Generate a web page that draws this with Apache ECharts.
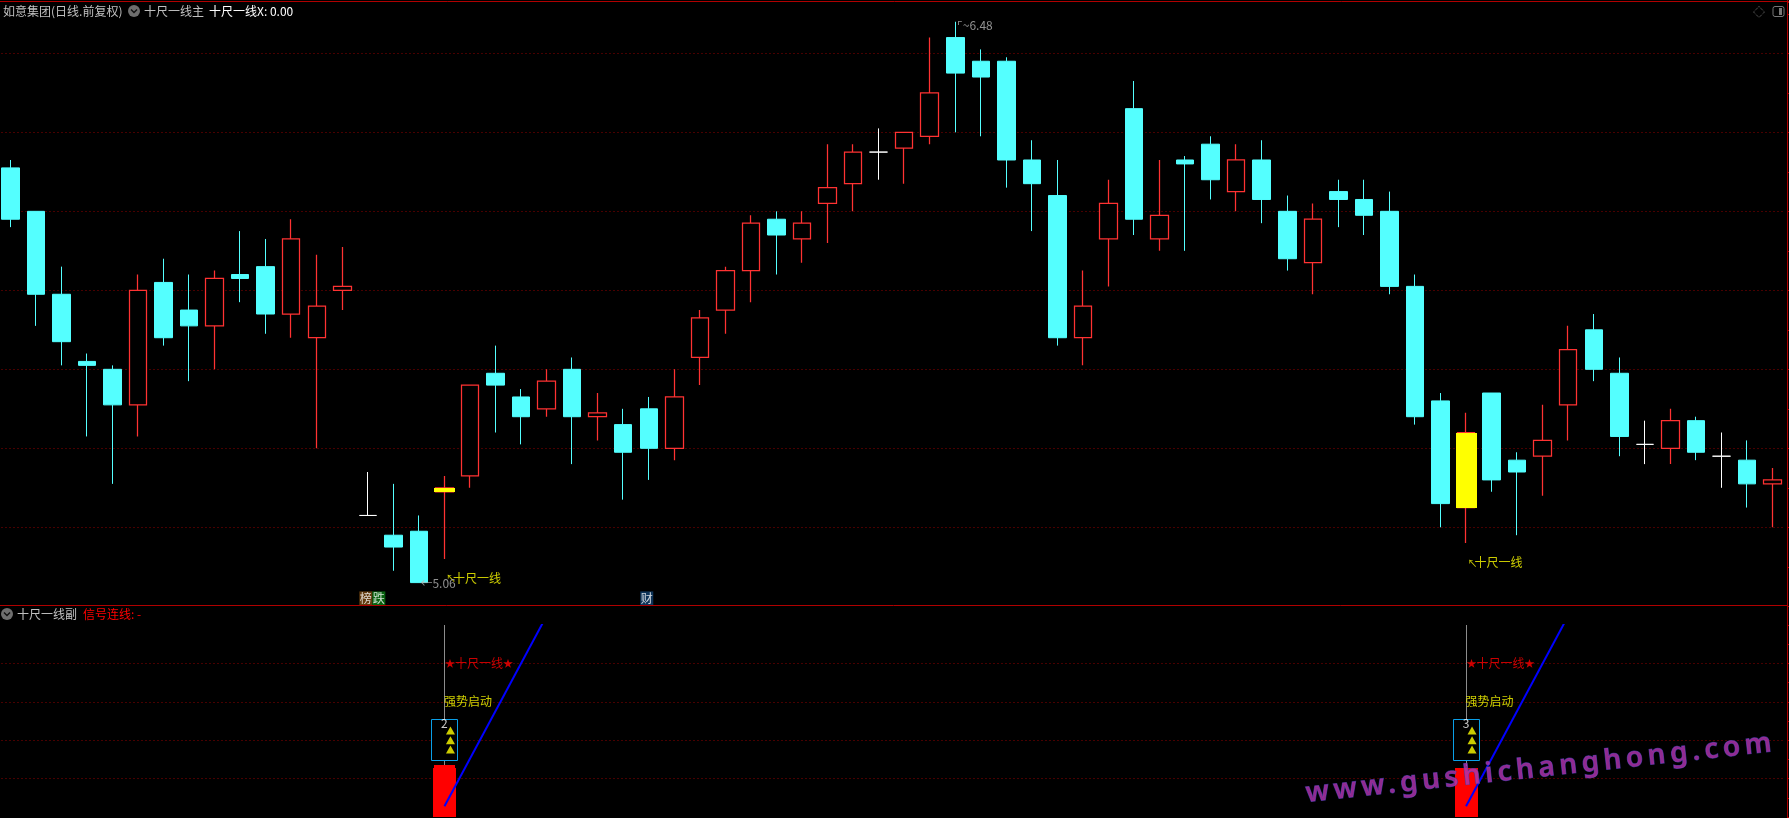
<!DOCTYPE html>
<html>
<head>
<meta charset="utf-8">
<style>html,body{margin:0;padding:0;background:#000}#c{width:1789px;height:818px}</style>
<script src="https://cdn.jsdelivr.net/npm/echarts@6/dist/echarts.min.js"></script>
</head>
<body>
<div id="c"></div>
<script>
// ---- candle data (price) ----
const opens = [6.11,6.00,5.79,5.62,5.60,5.51,5.82,5.75,5.71,5.84,5.86,5.74,5.68,5.80,5.23,5.18,5.19,5.29,5.33,5.59,5.53,5.50,5.60,5.48,5.46,5.50,5.40,5.63,5.75,5.85,5.98,5.93,6.02,6.07,6.15,6.16,6.19,6.44,6.38,6.38,6.13,6.04,5.68,5.93,6.26,5.93,6.13,6.17,6.05,6.13,6.00,5.87,6.05,6.03,6.00,5.81,5.52,5.25,5.54,5.37,5.38,5.51,5.70,5.59,5.41,5.40,5.47,5.38,5.37,5.31];
const closes = [5.98,5.79,5.67,5.61,5.51,5.80,5.68,5.71,5.83,5.83,5.74,5.93,5.76,5.81,5.23,5.15,5.06,5.30,5.56,5.56,5.48,5.57,5.48,5.49,5.39,5.40,5.53,5.73,5.85,5.97,5.94,5.97,6.06,6.15,6.15,6.20,6.30,6.35,6.34,6.13,6.07,5.68,5.76,6.02,5.98,5.99,6.12,6.08,6.13,6.03,5.88,5.98,6.03,5.99,5.81,5.48,5.26,5.44,5.32,5.34,5.42,5.65,5.60,5.43,5.41,5.47,5.39,5.38,5.31,5.32];
const lows = [5.96,5.71,5.61,5.43,5.31,5.43,5.66,5.57,5.60,5.77,5.69,5.68,5.40,5.75,5.23,5.09,5.06,5.12,5.30,5.44,5.41,5.48,5.36,5.42,5.27,5.32,5.37,5.56,5.69,5.77,5.84,5.87,5.92,6.00,6.08,6.07,6.17,6.20,6.19,6.06,5.95,5.66,5.61,5.81,5.94,5.90,5.90,6.03,6.00,5.97,5.85,5.79,5.96,5.94,5.79,5.46,5.20,5.16,5.29,5.18,5.28,5.42,5.57,5.38,5.36,5.36,5.37,5.30,5.25,5.20];
const highs = [6.13,6.00,5.86,5.64,5.61,5.84,5.88,5.84,5.85,5.95,5.93,5.98,5.89,5.91,5.34,5.31,5.23,5.33,5.56,5.66,5.55,5.60,5.63,5.54,5.50,5.53,5.60,5.75,5.86,5.99,6.00,6.00,6.17,6.17,6.21,6.20,6.44,6.48,6.41,6.39,6.18,6.13,5.85,6.08,6.33,6.13,6.14,6.19,6.17,6.18,6.04,6.02,6.08,6.08,6.05,5.84,5.54,5.49,5.54,5.39,5.51,5.71,5.74,5.63,5.47,5.50,5.48,5.44,5.42,5.35];
const categories = opens.map((_, i) => String(i));

// ---- main pane markers ----
const signalIndices = [17, 57];
const signalLabelPrices = [5.07, 5.11];
const lowIndex = 16, lowPrice = 5.06;
const highIndex = 37, highPrice = 6.48;
const badgeTexts = ['榜', '跌', '财'];
const badgeIndices = [14, 14, 25];
const badgePrice = 5.02;
const mainGridStep = 0.2, mainMin = 5.0, mainMax = 6.53;

// ---- sub pane values ----
const subMin = 0, subMax = 5, subStep = 1;
const stemLow = 1.33, stemHigh = 5;
const boxLow = 1.47, boxHigh = 2.55;
const redBarTop = [1.27, 1.27];
const redCapTop = [1.35, null];
const triangleValues = [2.25, 2.0, 1.76];
const countLabels = ['2', '3'];
const countValue = 2.43;
const starValue = 4.0, strongValue = 3.0;
const blueStartIdx = [17, 57], blueEndIdx = [21, 61];
const blueStartValue = 0.28, blueEndValue = 5.24;

// ---- helpers ----
const CJK = '"Noto Sans CJK SC","Noto Sans",sans-serif';
const BG = '#000000', CYAN = '#54ffff', RED = '#ff3232', GRID = '#900000', FRAME = '#b00000';

function rectSeries(name, gridIndex, data, width, fill, stroke, z) {
  return {
    type: 'custom', name, xAxisIndex: gridIndex, yAxisIndex: gridIndex, z, silent: true,
    encode: { x: 0, y: [1, 2] }, data,
    renderItem(params, api) {
      const c = api.coord([api.value(0), api.value(1)]);
      const t = api.coord([api.value(0), api.value(2)]);
      const x = Math.round(c[0] - width / 2);
      const y = Math.round(Math.min(c[1], t[1]));
      const h = Math.max(1, Math.round(Math.abs(c[1] - t[1])));
      const off = stroke ? 0.5 : 0;
      return {
        type: 'rect',
        shape: { x: x + off, y: y + off, width, height: h },
        style: stroke ? { fill, stroke, lineWidth: 1 } : { fill }
      };
    }
  };
}
function labelSeries(name, gridIndex, data, label, z) {
  return {
    type: 'scatter', name, xAxisIndex: gridIndex, yAxisIndex: gridIndex, z: z || 20, silent: true,
    symbolSize: 1, itemStyle: { color: 'transparent' }, data, label: Object.assign({ show: true, fontFamily: CJK, fontSize: 12 }, label)
  };
}
function txt(text, x, y, fill) {
  return { type: 'text', z: 50, style: { text, x, y, fill, font: '12px ' + CJK, textVerticalAlign: 'middle' } };
}
function chevronIcon(cx, cy) {
  return [
    { type: 'circle', z: 50, shape: { cx, cy, r: 6 }, style: { fill: '#6e6e6e' } },
    { type: 'polyline', z: 51, shape: { points: [[cx - 3, cy - 1.5], [cx, cy + 1.5], [cx + 3, cy - 1.5]] }, style: { stroke: '#111', lineWidth: 1.4, fill: 'none' } }
  ];
}
function frameLine(x1, y1, x2, y2) {
  return { type: 'line', z: 40, shape: { x1, y1, x2, y2 }, style: { stroke: FRAME, lineWidth: 1 } };
}

const candleData = opens.map((o, i) => {
  const item = { value: [o, closes[i], lows[i], highs[i]] };
  if (o === closes[i]) {
    item.itemStyle = { color: '#fff', color0: '#fff', borderColor: '#fff', borderColor0: '#fff', borderColorDoji: '#fff' };
  } else if (closes[i] > o) {
    item.itemStyle = { borderWidth: 1.25 };
  }
  return item;
});

const option = {
  animation: false,
  backgroundColor: BG,
  grid: [
    { left: -2.5, width: 1787.8, top: 2, height: 604.3, outerBoundsMode: 'none' },
    { left: -2.5, width: 1787.8, top: 625, height: 192, outerBoundsMode: 'none' }
  ],
  xAxis: [0, 1].map(g => ({
    type: 'category', gridIndex: g, data: categories, boundaryGap: true,
    axisLine: { show: false }, axisTick: { show: false }, axisLabel: { show: false }, splitLine: { show: false }
  })),
  yAxis: [
    { type: 'value', gridIndex: 0, position: 'right', offset: 2, min: mainMin, max: mainMax, interval: mainGridStep, scale: true },
    { type: 'value', gridIndex: 1, position: 'right', offset: 2, min: subMin, max: subMax, interval: subStep }
  ].map(a => Object.assign(a, {
    axisLine: { show: false },
    axisLabel: { show: false },
    axisTick: { show: true, length: 2, lineStyle: { color: FRAME } },
    minorTick: { show: true, splitNumber: 2, length: 2, lineStyle: { color: FRAME } },
    splitLine: { show: true, showMinLine: false, showMaxLine: false, lineStyle: { color: GRID, width: 1, type: [1, 3] } }
  })),
  series: [
    {
      type: 'candlestick', name: '如意集团', xAxisIndex: 0, yAxisIndex: 0, z: 5, silent: true,
      barWidth: 18, data: candleData,
      itemStyle: { color: BG, color0: CYAN, borderColor: RED, borderColor0: CYAN, borderWidth: 1 }
    },
    rectSeries('十尺一线', 0, signalIndices.map(i => [i, opens[i], closes[i]]), 21, '#ffff00', null, 8),
    labelSeries('十尺一线标注', 0, signalIndices.map((i, k) => [i, signalLabelPrices[k]]), {
      position: 'right', distance: 1, formatter: '{a|↖}{t|十尺一线}',
      rich: { a: { color: '#ffff00', fontSize: 10, fontFamily: CJK, width: 7 }, t: { color: '#ffff00', fontSize: 12, fontFamily: CJK } }
    }),
    labelSeries('最低', 0, [[lowIndex, lowPrice]], {
      position: 'right', distance: 1, offset: [0, 1], color: '#b4b4b4', formatter: '←' + lowPrice.toFixed(2)
    }),
    labelSeries('最高', 0, [[highIndex, highPrice]], {
      position: 'right', distance: 1, offset: [0, 4], color: '#b4b4b4', formatter: '⌜~' + highPrice.toFixed(2)
    }),
    labelSeries('榜', 0, [[badgeIndices[0], badgePrice]], {
      position: 'inside', offset: [-2, 0], color: '#fff', backgroundColor: '#7a4a12', padding: [1, 0.5], formatter: badgeTexts[0]
    }),
    labelSeries('跌', 0, [[badgeIndices[1], badgePrice]], {
      position: 'inside', offset: [11, 0], color: '#fff', backgroundColor: '#0a7a14', padding: [1, 0.5], formatter: badgeTexts[1]
    }),
    labelSeries('财', 0, [[badgeIndices[2], badgePrice]], {
      position: 'inside', offset: [-2, 0], color: '#fff', backgroundColor: '#10406e', padding: [1, 0.5], formatter: badgeTexts[2]
    }),

    rectSeries('竖线', 1, signalIndices.map(i => [i, stemLow, stemHigh]), 1, '#8c8c8c', null, 3),
    rectSeries('红柱顶', 1, signalIndices.map((i, k) => [i, 0, redCapTop[k]]).filter(d => d[2] !== null), 21, '#ff0000', null, 4),
    rectSeries('红柱', 1, signalIndices.map((i, k) => [i, 0, redBarTop[k]]), 23, '#ff0000', null, 4),
    rectSeries('方框', 1, signalIndices.map(i => [i, boxLow, boxHigh]), 26, BG, '#0a9fe8', 6),
    {
      type: 'scatter', name: '三角', xAxisIndex: 1, yAxisIndex: 1, z: 10, silent: true,
      symbol: 'triangle', symbolSize: [9, 8], symbolOffset: [6, 0], itemStyle: { color: '#ffff00' },
      data: signalIndices.flatMap(i => triangleValues.map(v => [i, v]))
    },
    ...blueStartIdx.map((s, k) => ({
      type: 'line', name: '信号连线' + (k + 1), xAxisIndex: 1, yAxisIndex: 1, z: 12, silent: true,
      showSymbol: false, symbol: 'none', connectNulls: true, clip: true,
      lineStyle: { color: '#0000ff', width: 2 },
      data: [[s, blueStartValue], [blueEndIdx[k], blueEndValue]]
    })),
    labelSeries('计数', 1, signalIndices.map((i, k) => ({ value: [i, countValue], name: countLabels[k] })), {
      position: 'inside', color: '#fff', formatter: p => p.name
    }),
    labelSeries('十尺一线副', 1, signalIndices.map(i => [i, starValue]), {
      position: 'right', distance: 0, formatter: '{s|★}{t|十尺一线}{s|★}',
      rich: { s: { color: '#ff0000', fontSize: 10, fontFamily: CJK }, t: { color: '#ff0000', fontSize: 12, fontFamily: CJK } }
    }),
    labelSeries('强势启动', 1, signalIndices.map(i => [i, strongValue]), {
      position: 'right', distance: -1, color: '#ffff00', formatter: '强势启动'
    })
  ],
  graphic: { elements: [
    frameLine(0, 1.5, 1789, 1.5),
    frameLine(0, 605.5, 1787, 605.5),
    frameLine(1787.5, 0, 1787.5, 818),
    txt('如意集团(日线.前复权)', 3, 11, '#c0c0c0'),
    ...chevronIcon(134, 11),
    txt('十尺一线主', 144, 11, '#c0c0c0'),
    txt('十尺一线X: 0.00', 209, 11, '#ffffff'),
    ...chevronIcon(7, 614),
    txt('十尺一线副', 17, 614, '#c0c0c0'),
    txt('信号连线: -', 83, 614, '#ff0000'),
    { type: 'polygon', z: 50, shape: { points: [[1759, 6.5], [1764.5, 12], [1759, 17.5], [1753.5, 12]] }, style: { fill: 'none', stroke: '#777', lineWidth: 1, lineDash: [1, 1] } },
    { type: 'rect', z: 50, shape: { x: 1773, y: 6.5, width: 11, height: 10, r: 2 }, style: { fill: 'none', stroke: '#777', lineWidth: 1 } },
    { type: 'rect', z: 50, shape: { x: 1779, y: 8, width: 3, height: 7 }, style: { fill: '#777' } },
    {
      type: 'text', zlevel: 1, z: 60, x: 1306, y: 794, rotation: 0.108, silent: true,
      style: {
        text: 'www.gushichanghong.com', x: 0, y: 0, fill: '#b035b0', stroke: '#3a3aa0', lineWidth: 1, opacity: 0.82,
        font: '600 28px "Noto Sans",sans-serif', textAlign: 'left', textVerticalAlign: 'middle'
      }
    }
  ] }
};
const chart = echarts.init(document.getElementById('c'), null, { renderer: 'canvas', width: 1789, height: 818 });
chart.setOption(option);
// Watermark has wide tracking: it lives on its own canvas layer, so only its context is spaced.
(function () {
  const painter = chart.getZr().painter;
  const layer = painter && painter.getLayer && painter.getLayer(1);
  if (layer && layer.ctx) {
    layer.ctx.letterSpacing = '4.6px';
    painter.refresh(true);
  }
})();
</script>
</body>
</html>
